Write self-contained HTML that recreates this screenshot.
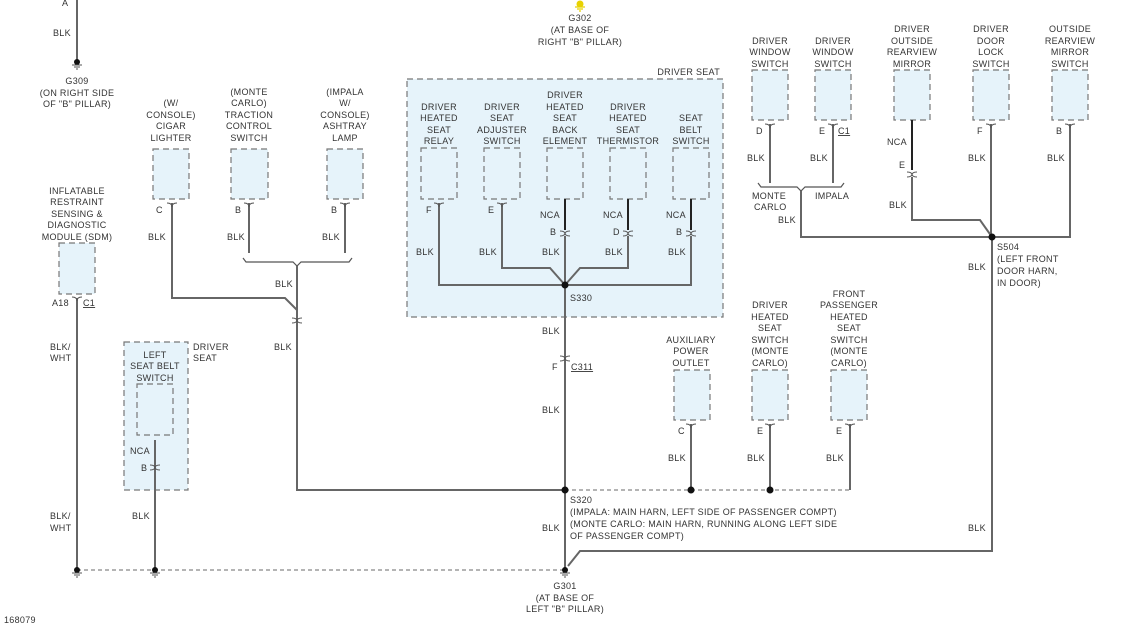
<!DOCTYPE html>
<html><head><meta charset="utf-8"><style>
html,body{margin:0;padding:0;background:#fff;}
svg{display:block;}
text{font-family:"Liberation Sans",sans-serif;font-size:9px;fill:#333;letter-spacing:0.3px;}
.m{text-anchor:middle}.e{text-anchor:end}
.w{stroke:#666;stroke-width:2;fill:none}
.k{stroke:#222;stroke-width:2;fill:none}
.d{stroke:#888;stroke-width:1.2;fill:none;stroke-dasharray:4 3}
.b{fill:#e6f3fa;stroke:#777;stroke-width:1.2;stroke-dasharray:6 4}
.c{stroke:#555;stroke-width:1.2;fill:none}
.t{stroke:#555;stroke-width:1;fill:none}
</style></head><body>
<svg width="1144" height="628" viewBox="0 0 1144 628">
<!-- driver seat big box -->
<rect class="b" x="407" y="79" width="316" height="238"/>
<text class="e" x="720" y="75">DRIVER SEAT</text>
<rect class="b" x="124" y="342" width="64" height="148"/>

<!-- boxes -->
<g>
<rect class="b" x="59" y="243" width="36" height="51"/>
<rect class="b" x="153" y="149" width="36" height="50"/>
<rect class="b" x="231" y="149" width="37" height="50"/>
<rect class="b" x="327" y="149" width="36" height="50"/>
<rect class="b" x="421" y="148" width="36" height="51"/>
<rect class="b" x="484" y="148" width="36" height="51"/>
<rect class="b" x="547" y="148" width="36" height="51"/>
<rect class="b" x="610" y="148" width="36" height="51"/>
<rect class="b" x="673" y="148" width="36" height="51"/>
<rect class="b" x="752" y="70" width="36" height="50"/>
<rect class="b" x="815" y="70" width="36" height="50"/>
<rect class="b" x="894" y="70" width="36" height="50"/>
<rect class="b" x="973" y="70" width="36" height="50"/>
<rect class="b" x="1052" y="70" width="36" height="50"/>
<rect class="b" x="137" y="384" width="36" height="51"/>
<rect class="b" x="674" y="370" width="36" height="50"/>
<rect class="b" x="752" y="370" width="36" height="50"/>
<rect class="b" x="831" y="370" width="36" height="50"/>
</g>

<!-- wires -->
<path class="w" d="M77 0V60"/>
<path class="w" d="M77 298V570"/>
<path class="w" d="M172 203V298H285L297 310"/>
<path class="w" d="M249 203V253M345 203V253"/>
<path class="c" d="M243 258L246 262H293L297 266L301 262H349L352 258"/>
<path class="w" d="M297 266V490H565"/>
<path class="d" d="M565 490H850"/>
<path class="w" d="M850 424V490"/>
<path class="w" d="M691 424V490M770 424V490"/>
<path class="w" d="M439 203V285H565"/>
<path class="w" d="M502 203V268H550L565 285"/>
<path class="k" d="M565 199V230"/><path class="w" d="M565 236V570"/>
<path class="k" d="M628 199V230"/><path class="w" d="M628 236V268H580L565 285"/>
<path class="k" d="M691 199V230"/><path class="w" d="M691 236V285H565"/>
<path class="w" d="M155 440V570"/>
<path class="d" d="M77 570H565"/>
<path class="w" d="M992 237V551H580L568 566"/>
<path class="w" d="M770 124V183M833 124V183"/>
<path class="c" d="M758 183L761 187H797L801 191L805 187H841L844 183"/>
<path class="w" d="M801 191V237H992"/>
<path class="k" d="M912 120V170"/><path class="w" d="M912 177V220H980L992 237"/>
<path class="w" d="M991 124V237M1070 124V237H992"/>

<!-- connectors (Y style at component) -->
<g class="t">
<path d="M167 203q5 0 5 4q0-4 5-4M244 203q5 0 5 4q0-4 5-4M340 203q5 0 5 4q0-4 5-4"/>
<path d="M72 297q5 0 5 4q0-4 5-4"/>
<path d="M434 203q5 0 5 4q0-4 5-4M497 203q5 0 5 4q0-4 5-4"/>
<path d="M560 231q5 0 5 3q0-3 5-3M560 236q5 0 5-3q0 3 5 3"/>
<path d="M623 231q5 0 5 3q0-3 5-3M623 236q5 0 5-3q0 3 5 3"/>
<path d="M686 231q5 0 5 3q0-3 5-3M686 236q5 0 5-3q0 3 5 3"/>
<path d="M560 356q5 0 5 3q0-3 5-3M560 361q5 0 5-3q0 3 5 3"/>
<path d="M292 318q5 0 5 3q0-3 5-3M292 323q5 0 5-3q0 3 5 3"/>
<path d="M907 172q5 0 5 3q0-3 5-3M907 177q5 0 5-3q0 3 5 3"/>
<path d="M765 124q5 0 5 4q0-4 5-4M828 124q5 0 5 4q0-4 5-4M986 124q5 0 5 4q0-4 5-4M1065 124q5 0 5 4q0-4 5-4"/>
<path d="M150 465q5 0 5 3q0-3 5-3M150 470q5 0 5-3q0 3 5 3"/>
<path d="M686 424q5 0 5 4q0-4 5-4M765 424q5 0 5 4q0-4 5-4M845 424q5 0 5 4q0-4 5-4"/>
</g>

<!-- dots -->
<g fill="#111">
<circle cx="565" cy="285" r="3.5"/><circle cx="565" cy="490" r="3.5"/>
<circle cx="691" cy="490" r="3.5"/><circle cx="770" cy="490" r="3.5"/>
<circle cx="992" cy="237" r="3.5"/>
</g>
<!-- grounds -->
<g>
<g transform="translate(77,62)"><circle r="3" fill="#111"/><path class="t" d="M-5 3H5M-3 5H3M-1 7H1"/></g>
<g transform="translate(580,4)"><circle r="3.5" fill="#e8d200"/><path d="M-5 3H5M-3 5H3M-1 7H1" stroke="#e8d200" stroke-width="1.2"/></g>
<g transform="translate(77,570)"><circle r="3" fill="#111"/><path class="t" d="M-5 3H5M-3 5H3M-1 7H1"/></g>
<g transform="translate(155,570)"><circle r="3" fill="#111"/><path class="t" d="M-5 3H5M-3 5H3M-1 7H1"/></g>
<g transform="translate(565,570)"><circle r="3" fill="#111"/><path class="t" d="M-5 3H5M-3 5H3M-1 7H1"/></g>
</g>

<!-- labels -->
<text x="62" y="6">A</text><text x="53" y="36">BLK</text>
<text class="m" x="77" y="84">G309</text><text class="m" x="77" y="96">(ON RIGHT SIDE</text><text class="m" x="77" y="107">OF "B" PILLAR)</text>
<text class="m" x="580" y="21">G302</text><text class="m" x="580" y="33">(AT BASE OF</text><text class="m" x="580" y="45">RIGHT "B" PILLAR)</text>
<text class="m" x="171" y="106">(W/</text><text class="m" x="171" y="118">CONSOLE)</text><text class="m" x="171" y="129">CIGAR</text><text class="m" x="171" y="141">LIGHTER</text>
<text class="m" x="249" y="95">(MONTE</text><text class="m" x="249" y="106">CARLO)</text><text class="m" x="249" y="118">TRACTION</text><text class="m" x="249" y="129">CONTROL</text><text class="m" x="249" y="141">SWITCH</text>
<text class="m" x="345" y="95">(IMPALA</text><text class="m" x="345" y="106">W/</text><text class="m" x="345" y="118">CONSOLE)</text><text class="m" x="345" y="129">ASHTRAY</text><text class="m" x="345" y="141">LAMP</text>
<text class="m" x="77" y="194">INFLATABLE</text><text class="m" x="77" y="205">RESTRAINT</text><text class="m" x="77" y="217">SENSING &amp;</text><text class="m" x="77" y="228">DIAGNOSTIC</text><text class="m" x="77" y="240">MODULE (SDM)</text>
<text x="52" y="306">A18</text><text x="83" y="306" text-decoration="underline">C1</text>
<text x="156" y="213">C</text><text x="235" y="213">B</text><text x="331" y="213">B</text>
<text x="148" y="240">BLK</text><text x="227" y="240">BLK</text><text x="322" y="240">BLK</text>
<text x="275" y="287">BLK</text><text x="274" y="350">BLK</text>
<text x="50" y="350">BLK/</text><text x="50" y="361">WHT</text>
<text x="50" y="519">BLK/</text><text x="50" y="531">WHT</text>
<text class="m" x="155" y="358">LEFT</text><text class="m" x="155" y="369">SEAT BELT</text><text class="m" x="155" y="381">SWITCH</text>
<text x="193" y="350">DRIVER</text><text x="193" y="361">SEAT</text>
<text x="130" y="454">NCA</text><text x="141" y="471">B</text><text x="132" y="519">BLK</text>
<text class="m" x="439" y="110">DRIVER</text><text class="m" x="439" y="121">HEATED</text><text class="m" x="439" y="133">SEAT</text><text class="m" x="439" y="144">RELAY</text>
<text class="m" x="502" y="110">DRIVER</text><text class="m" x="502" y="121">SEAT</text><text class="m" x="502" y="133">ADJUSTER</text><text class="m" x="502" y="144">SWITCH</text>
<text class="m" x="565" y="98">DRIVER</text><text class="m" x="565" y="110">HEATED</text><text class="m" x="565" y="121">SEAT</text><text class="m" x="565" y="133">BACK</text><text class="m" x="565" y="144">ELEMENT</text>
<text class="m" x="628" y="110">DRIVER</text><text class="m" x="628" y="121">HEATED</text><text class="m" x="628" y="133">SEAT</text><text class="m" x="628" y="144">THERMISTOR</text>
<text class="m" x="691" y="121">SEAT</text><text class="m" x="691" y="133">BELT</text><text class="m" x="691" y="144">SWITCH</text>
<text x="426" y="213">F</text><text x="488" y="213">E</text>
<text x="540" y="218">NCA</text><text x="603" y="218">NCA</text><text x="666" y="218">NCA</text>
<text x="550" y="235">B</text><text x="613" y="235">D</text><text x="676" y="235">B</text>
<text x="416" y="255">BLK</text><text x="479" y="255">BLK</text><text x="542" y="255">BLK</text><text x="605" y="255">BLK</text><text x="668" y="255">BLK</text>
<text x="570" y="301">S330</text>
<text x="542" y="334">BLK</text><text x="552" y="370">F</text><text x="571" y="370" text-decoration="underline">C311</text>
<text x="542" y="413">BLK</text>
<text x="570" y="503">S320</text>
<text x="570" y="515">(IMPALA: MAIN HARN, LEFT SIDE OF PASSENGER COMPT)</text>
<text x="570" y="527">(MONTE CARLO: MAIN HARN, RUNNING ALONG LEFT SIDE</text>
<text x="570" y="539">OF PASSENGER COMPT)</text>
<text x="542" y="531">BLK</text>
<text class="m" x="565" y="589">G301</text><text class="m" x="565" y="601">(AT BASE OF</text><text class="m" x="565" y="612">LEFT "B" PILLAR)</text>
<text x="4" y="623">168079</text>
<text class="m" x="691" y="343">AUXILIARY</text><text class="m" x="691" y="354">POWER</text><text class="m" x="691" y="366">OUTLET</text>
<text class="m" x="770" y="308">DRIVER</text><text class="m" x="770" y="320">HEATED</text><text class="m" x="770" y="331">SEAT</text><text class="m" x="770" y="343">SWITCH</text><text class="m" x="770" y="354">(MONTE</text><text class="m" x="770" y="366">CARLO)</text>
<text class="m" x="849" y="297">FRONT</text><text class="m" x="849" y="308">PASSENGER</text><text class="m" x="849" y="320">HEATED</text><text class="m" x="849" y="331">SEAT</text><text class="m" x="849" y="343">SWITCH</text><text class="m" x="849" y="354">(MONTE</text><text class="m" x="849" y="366">CARLO)</text>
<text x="678" y="434">C</text><text x="757" y="434">E</text><text x="836" y="434">E</text>
<text x="668" y="461">BLK</text><text x="747" y="461">BLK</text><text x="826" y="461">BLK</text>
<text class="m" x="770" y="44">DRIVER</text><text class="m" x="770" y="55">WINDOW</text><text class="m" x="770" y="67">SWITCH</text>
<text class="m" x="833" y="44">DRIVER</text><text class="m" x="833" y="55">WINDOW</text><text class="m" x="833" y="67">SWITCH</text>
<text class="m" x="912" y="32">DRIVER</text><text class="m" x="912" y="44">OUTSIDE</text><text class="m" x="912" y="55">REARVIEW</text><text class="m" x="912" y="67">MIRROR</text>
<text class="m" x="991" y="32">DRIVER</text><text class="m" x="991" y="44">DOOR</text><text class="m" x="991" y="55">LOCK</text><text class="m" x="991" y="67">SWITCH</text>
<text class="m" x="1070" y="32">OUTSIDE</text><text class="m" x="1070" y="44">REARVIEW</text><text class="m" x="1070" y="55">MIRROR</text><text class="m" x="1070" y="67">SWITCH</text>
<text x="756" y="134">D</text><text x="819" y="134">E</text><text x="838" y="134" text-decoration="underline">C1</text>
<text x="977" y="134">F</text><text x="1056" y="134">B</text>
<text x="887" y="145">NCA</text><text x="899" y="168">E</text>
<text x="747" y="161">BLK</text><text x="810" y="161">BLK</text><text x="968" y="161">BLK</text><text x="1047" y="161">BLK</text>
<text x="752" y="199">MONTE</text><text x="754" y="210">CARLO</text><text x="815" y="199">IMPALA</text>
<text x="778" y="223">BLK</text><text x="889" y="208">BLK</text>
<text x="997" y="250">S504</text><text x="997" y="262">(LEFT FRONT</text><text x="997" y="274">DOOR HARN,</text><text x="997" y="286">IN DOOR)</text>
<text x="968" y="270">BLK</text><text x="968" y="531">BLK</text>
</svg>
</body></html>
